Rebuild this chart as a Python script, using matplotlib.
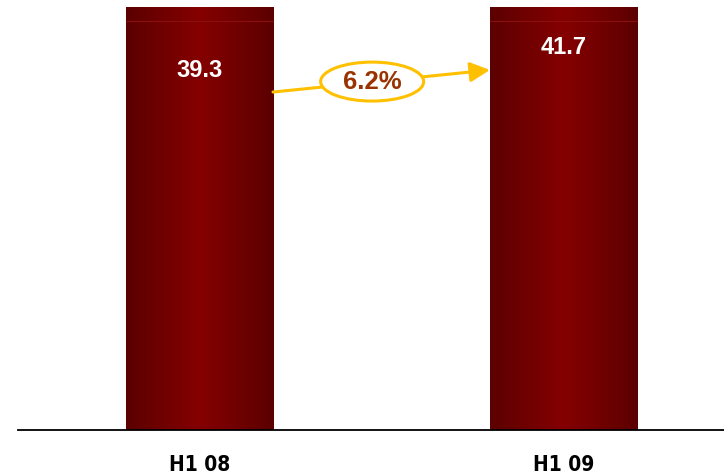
import matplotlib.pyplot as plt
import numpy as np
from matplotlib.patches import Ellipse

periods = ['H1 08', 'H1 09']
values = [39.3, 41.7]
growth = '6.2%'

plt.rcParams['font.family'] = ['Liberation Sans', 'DejaVu Sans']

fig = plt.figure(figsize=(7.24, 4.74), dpi=100)
ax = fig.add_axes([18 / 724, 44 / 474, 706 / 724, 423 / 474])

x = np.arange(len(periods))
bars = ax.bar(x, values, width=0.404, color='#780000', zorder=2)

# horizontal gradient: dark edges, lighter middle
grad = np.abs(np.linspace(-1, 1, 200))
cols = np.array([[0x85, 0x00, 0x00]]) * (1 - grad[:, None]) + np.array([[0x5c, 0x00, 0x00]]) * grad[:, None]
img = (cols / 255)[None, :, :]
for b in bars:
    im = ax.imshow(img, extent=[b.get_x(), b.get_x() + b.get_width(), 0, b.get_height()],
                   aspect='auto', zorder=3)
    im.set_clip_path(b)
    im.set_clip_box(ax.bbox)
    # faint edge of the clipped top face
    ax.plot([b.get_x(), b.get_x() + b.get_width()], [36.75, 36.75], color='#8a1010', lw=0.8, zorder=4)

ax.set_aspect('auto')
ax.set_xlim(-0.4986, 1.441)
ax.set_ylim(0, 38)

label_y = [32.34, 34.4]
for xi, v, ly in zip(x, values, label_y):
    ax.text(xi, ly, f'{v:.1f}', color='white', fontsize=17, fontweight='bold',
            ha='center', va='center', zorder=5)

# growth arrow between the bars
x0 = bars[0].get_x() + bars[0].get_width()
x1 = bars[1].get_x()
ax.annotate('', xy=(x1, 32.34), xytext=(x0, 30.36),
            arrowprops=dict(arrowstyle='-|>,head_length=1.2,head_width=0.6', color='#FFC000',
                            lw=2.2, shrinkA=0, shrinkB=0), zorder=5)
ell = Ellipse((0.4744, 31.3), width=0.283, height=3.5, facecolor='white',
              edgecolor='#FFC000', lw=2.2, zorder=6)
ax.add_patch(ell)
ax.text(0.4744, 31.26, growth, color='#993300', fontsize=18.5, fontweight='bold',
        ha='center', va='center', zorder=7)

for s in ['top', 'right', 'left']:
    ax.spines[s].set_visible(False)
ax.spines['bottom'].set_linewidth(1.3)
ax.spines['bottom'].set_zorder(6)
ax.set_yticks([])
ax.set_xticks(x)
ax.set_xticklabels(periods, fontsize=15, fontweight='bold',
                   fontfamily='DejaVu Sans', fontstretch='condensed')
ax.tick_params(axis='x', length=0, pad=18)

plt.savefig('out.png', dpi=100)
